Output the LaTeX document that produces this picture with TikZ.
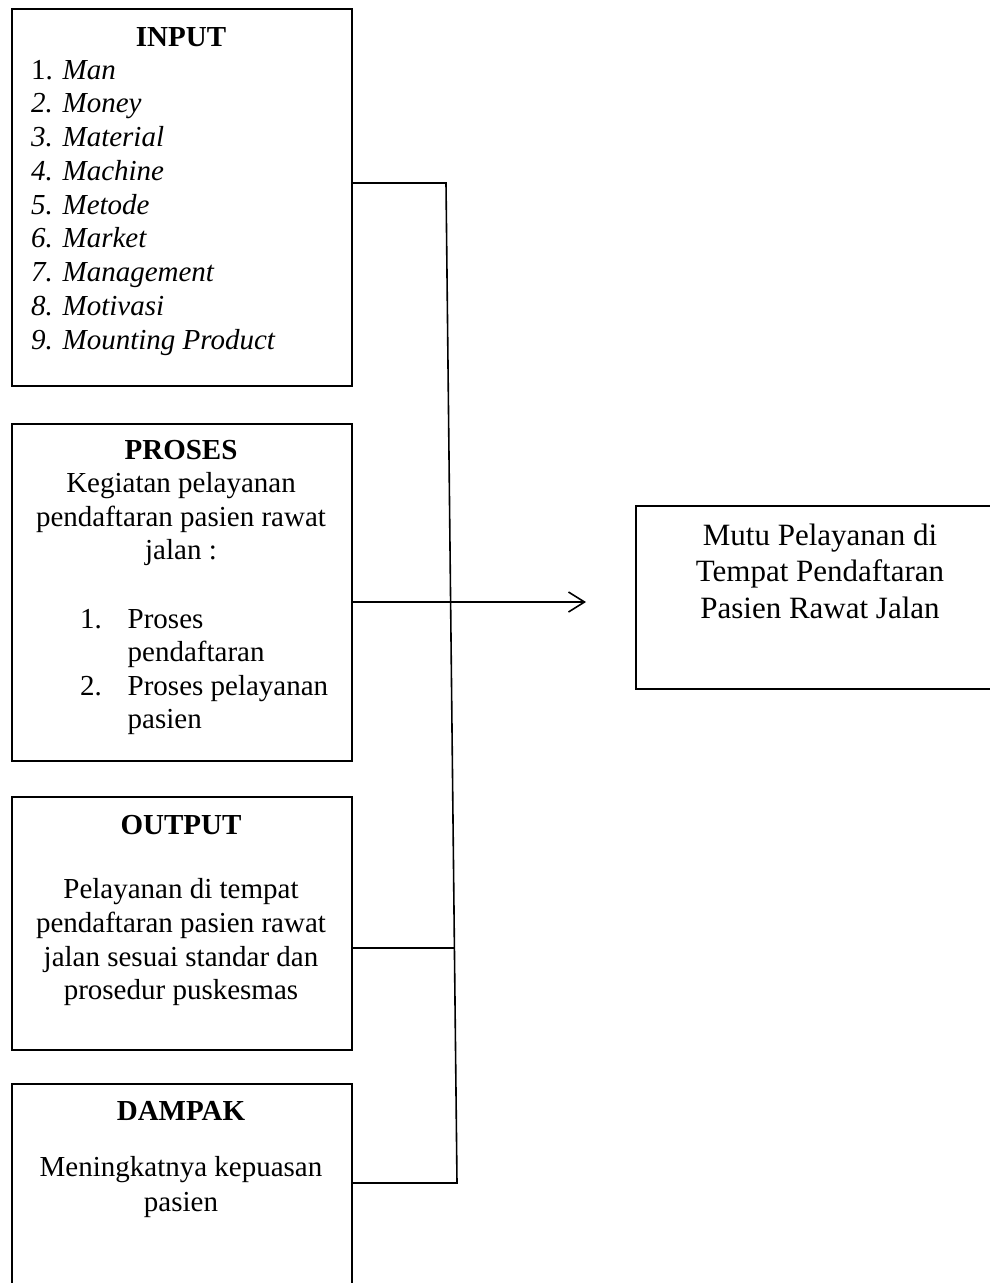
\documentclass[tikz,border=0pt]{standalone}
\usepackage{fontspec}
\setmainfont{Liberation Serif}
\usetikzlibrary{arrows.meta,calc}
\begin{document}
\begin{tikzpicture}[x=1pt,y=-1pt,
 box/.style={draw,line width=1.8pt,inner sep=0,anchor=north west},
 txt/.style={inner sep=0,anchor=base,font=\fontsize{29}{34}\selectfont},
 txtl/.style={txt,anchor=base west},
 hd/.style={txt,font=\fontsize{29}{34}\selectfont\bfseries},
 big/.style={inner sep=0,anchor=base,font=\fontsize{31}{36}\selectfont},
 link/.style={line width=1.6pt}]
\useasboundingbox (0,0) rectangle (990,1283);
% boxes
\node[box,minimum width=340pt,minimum height=377pt] (input) at (11,8) {};
\node[box,minimum width=340pt,minimum height=337pt] (proses) at (11,423) {};
\node[box,minimum width=340pt,minimum height=253pt] (output) at (11,796) {};
\node[box,minimum width=340pt,minimum height=230pt] (dampak) at (11,1083) {};
\node[box,minimum width=370pt,minimum height=183pt] (mutu) at (635,505) {};
% INPUT text
\node[hd] (inT) at (181,46) {INPUT};
\node[txtl] (in1) at (31,79) {1. \textit{Man}};
\node[txtl] (in2) at (31,112.75) {\itshape 2. Money};
\node[txtl] (in3) at (31,146.5) {\itshape 3. Material};
\node[txtl] (in4) at (31,180.25) {\itshape 4. Machine};
\node[txtl] (in5) at (31,214) {\itshape 5. Metode};
\node[txtl] (in6) at (31,247.75) {\itshape 6. Market};
\node[txtl] (in7) at (31,281.5) {\itshape 7. Management};
\node[txtl] (in8) at (31,315.25) {\itshape 8. Motivasi};
\node[txtl] (in9) at (31,349) {\itshape 9. Mounting Product};
% PROSES text
\node[hd] (prT) at (181,459) {PROSES};
\node[txt] (pr1) at (181,492.5) {Kegiatan pelayanan};
\node[txt] (pr2) at (181,526) {pendaftaran pasien rawat};
\node[txt] (pr3) at (181,559.5) {jalan :};
\node[txtl] (prn1) at (80,628) {1.};
\node[txtl] (pra) at (127.5,628) {Proses};
\node[txtl] (prb) at (127.5,661.5) {pendaftaran};
\node[txtl] (prn2) at (80,695) {2.};
\node[txtl] (prc) at (127.5,695) {Proses pelayanan};
\node[txtl] (prd) at (127.5,728.5) {pasien};
% OUTPUT text
\node[hd] (ouT) at (181,834) {OUTPUT};
\node[txt] (ou1) at (181,898) {Pelayanan di tempat};
\node[txt] (ou2) at (181,932) {pendaftaran pasien rawat};
\node[txt] (ou3) at (181,966) {jalan sesuai standar dan};
\node[txt] (ou4) at (181,999.5) {prosedur puskesmas};
% DAMPAK text
\node[hd] (daT) at (181,1120) {DAMPAK};
\node[txt] (da1) at (181,1176) {Meningkatnya kepuasan};
\node[txt] (da2) at (181,1211) {pasien};
% right box text
\node[big] (mu1) at (820,545) {Mutu Pelayanan di};
\node[big] (mu2) at (820,581.5) {Tempat Pendaftaran};
\node[big] (mu3) at (820,618) {Pasien Rawat Jalan};
% connectors
\coordinate (jtop) at (446,183);
\coordinate (jbot) at (457,1183);
\coordinate (jpro) at ($(jtop)!0.419!(jbot)$);
\coordinate (jout) at ($(jtop)!0.765!(jbot)$);
\coordinate (tip) at (586,602);
\draw[link] (input.east |- jtop) -- (jtop) -- (jbot) -- (dampak.east |- jbot);
\draw[link] (output.east |- jout) -- (jout);
\draw[link,-{Straight Barb[length=16pt,width=20pt,line width=1.6pt]}] (proses.east |- tip) -- (tip);
\end{tikzpicture}
\end{document}
